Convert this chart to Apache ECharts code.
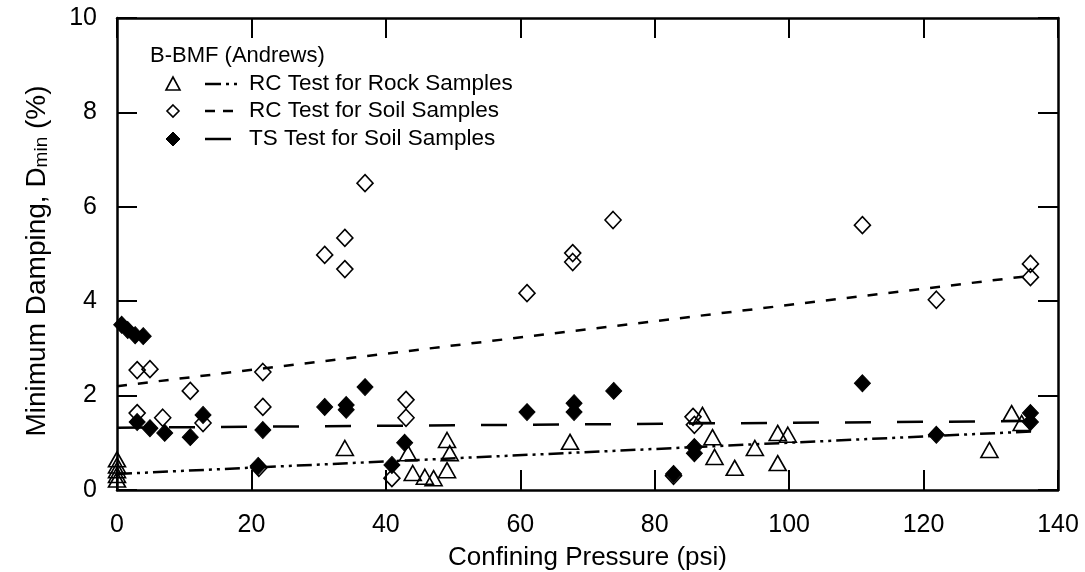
<!DOCTYPE html>
<html>
<head>
<meta charset="utf-8">
<script src="https://cdn.jsdelivr.net/npm/echarts@6/dist/echarts.min.js"></script>
<style>
html,body{margin:0;padding:0;background:#fff;}
#chart{width:1085px;height:572px;}
</style>
</head>
<body>
<div id="chart"></div>
<script>
// ---- data ----
var xTicks = [0, 20, 40, 60, 80, 100, 120, 140];
var yTicks = [0, 2, 4, 6, 8, 10];

// RC Test for Rock Samples (open triangles)
var rockSamples = [
  [0, 0.65], [0, 0.52], [0, 0.42], [0, 0.32], [0, 0.22],
  [33.9, 0.89],
  [43.3, 0.78], [44.0, 0.36], [45.8, 0.28], [47.1, 0.25],
  [49.1, 1.06], [49.5, 0.78], [49.1, 0.42],
  [67.4, 1.02],
  [87.1, 1.59], [88.6, 1.12], [88.9, 0.70], [91.9, 0.47], [94.9, 0.89],
  [98.3, 1.21], [99.8, 1.17], [98.3, 0.57],
  [129.8, 0.85], [133.1, 1.63], [134.6, 1.42]
];

// RC Test for Soil Samples (open diamonds)
var rcSoilSamples = [
  [3.0, 2.54], [4.9, 2.56], [10.9, 2.10], [3.0, 1.63], [6.8, 1.53], [12.8, 1.42],
  [21.7, 2.50], [21.7, 1.76], [21.1, 0.47],
  [36.9, 6.50], [33.9, 5.34], [30.9, 4.98], [33.9, 4.68],
  [43.0, 1.91], [43.0, 1.53], [40.9, 0.25],
  [61.0, 4.17], [67.8, 5.02], [67.8, 4.83], [73.8, 5.72],
  [85.7, 1.55], [85.9, 1.38], [82.8, 0.30],
  [110.9, 5.61], [121.9, 4.03], [135.9, 4.79], [135.9, 4.51]
];

// TS Test for Soil Samples (filled diamonds)
var tsSoilSamples = [
  [0.7, 3.50], [1.6, 3.39], [2.7, 3.28], [3.9, 3.26],
  [3.0, 1.44], [4.9, 1.31], [7.1, 1.21], [10.9, 1.12], [12.8, 1.59],
  [21.7, 1.27], [21.0, 0.51],
  [30.9, 1.76], [34.1, 1.80], [34.1, 1.70], [36.9, 2.18],
  [42.8, 1.00], [40.9, 0.53],
  [61.0, 1.65], [68.0, 1.84], [68.0, 1.65], [73.9, 2.10],
  [85.9, 0.91], [85.9, 0.78], [82.8, 0.34],
  [110.9, 2.26], [121.9, 1.17], [135.9, 1.63], [135.9, 1.44]
];

// trend lines
var rockFit = [[0, 0.34], [136, 1.24]];
var rcSoilFit = [[0, 2.20], [136, 4.54]];
var tsSoilFit = [[0, 1.32], [136, 1.46]];

var legendTitle = 'B-BMF (Andrews)';
var legendNames = ['RC Test for Rock Samples', 'RC Test for Soil Samples', 'TS Test for Soil Samples'];

// ---- chart ----
var FONT = 'Liberation Sans, Arial, Helvetica, sans-serif';
var chart = echarts.init(document.getElementById('chart'), null, {renderer: 'canvas'});

var axisCommon = {
  axisLine: {show: true, onZero: false, lineStyle: {color: '#000', width: 2.5}},
  axisTick: {show: true, inside: true, length: 20, lineStyle: {color: '#000', width: 2}},
  splitLine: {show: false}
};

function mk(extra) { return Object.assign({}, JSON.parse(JSON.stringify(axisCommon)), extra); }

var rockDash = [15, 5, 3, 5, 3, 5];
var soilDash = [10, 11];
var tsDash = [26, 26];

var legendRowsY = [84, 111, 139];

var graphics = [
  {type: 'text', left: 150, top: 45, style: {text: legendTitle, font: '22px ' + FONT, fill: '#000'}}
];
// legend markers
graphics.push({type: 'polygon', shape: {points: [[173, 77], [166, 90], [180, 90]]}, style: {fill: 'none', stroke: '#000', lineWidth: 1.6}});
graphics.push({type: 'polygon', shape: {points: [[173, 105], [179, 111], [173, 117], [167, 111]]}, style: {fill: 'none', stroke: '#000', lineWidth: 1.6}});
graphics.push({type: 'polygon', shape: {points: [[173, 132], [180, 139], [173, 146], [166, 139]]}, style: {fill: '#000', stroke: '#000', lineWidth: 1}});
// legend line samples
graphics.push({type: 'line', shape: {x1: 205, y1: 84, x2: 240, y2: 84}, style: {stroke: '#000', lineWidth: 2.5, lineDash: [16, 5, 3, 5, 3, 5]}});
graphics.push({type: 'line', shape: {x1: 205, y1: 111, x2: 234, y2: 111}, style: {stroke: '#000', lineWidth: 2.5, lineDash: [10, 8]}});
graphics.push({type: 'line', shape: {x1: 205, y1: 139, x2: 231, y2: 139}, style: {stroke: '#000', lineWidth: 2.5}});
for (var i = 0; i < 3; i++) {
  graphics.push({type: 'text', left: 249, top: legendRowsY[i] - 12,
    style: {text: legendNames[i], font: '22.5px ' + FONT, fill: '#000'}});
}

var option = {
  backgroundColor: '#fff',
  animation: false,
  textStyle: {fontFamily: FONT},
  grid: {left: 117, right: 27, top: 18, bottom: 82, containLabel: false, outerBoundsMode: 'none'},
  xAxis: [
    mk({type: 'value', position: 'bottom', min: 0, max: 140, interval: 20,
      name: 'Confining Pressure (psi)', nameLocation: 'middle', nameGap: 55,
      nameTextStyle: {fontSize: 26, color: '#000', fontFamily: FONT},
      axisLabel: {show: true, fontSize: 25, color: '#000', margin: 23, fontFamily: FONT}}),
    mk({type: 'value', position: 'top', min: 0, max: 140, interval: 20, axisLabel: {show: false}})
  ],
  yAxis: [
    mk({type: 'value', position: 'left', min: 0, max: 10, interval: 2,
      name: '{a|Minimum Damping, D}{b|min}{a| (%)}', nameLocation: 'middle', nameGap: 66, nameRotate: 90,
      nameTextStyle: {
        padding: [0, 14, 0, 0],
        rich: {
          a: {fontSize: 28, color: '#000', fontFamily: FONT, lineHeight: 34, verticalAlign: 'bottom'},
          b: {fontSize: 19, color: '#000', fontFamily: FONT, lineHeight: 34, verticalAlign: 'bottom'}
        }
      },
      axisLabel: {show: true, fontSize: 25, color: '#000', margin: 20, fontFamily: FONT}}),
    mk({type: 'value', position: 'right', min: 0, max: 10, interval: 2, axisLabel: {show: false}})
  ],
  graphic: graphics,
  series: [
    {type: 'line', data: rockFit, symbol: 'none', z: 2, silent: true,
      lineStyle: {color: '#000', width: 2.5, type: rockDash}},
    {type: 'line', data: rcSoilFit, symbol: 'none', z: 2, silent: true,
      lineStyle: {color: '#000', width: 2.5, type: soilDash}},
    {type: 'line', data: tsSoilFit, symbol: 'none', z: 2, silent: true,
      lineStyle: {color: '#000', width: 2.5, type: tsDash}},
    {type: 'scatter', name: legendNames[1], data: rcSoilSamples, symbol: 'diamond', symbolSize: [16, 17], z: 3,
      itemStyle: {color: 'rgba(0,0,0,0)', borderColor: '#000', borderWidth: 1.6, opacity: 1}},
    {type: 'scatter', name: legendNames[0], data: rockSamples, symbol: 'triangle', symbolSize: [17, 15], z: 3,
      itemStyle: {color: 'rgba(0,0,0,0)', borderColor: '#000', borderWidth: 1.6, opacity: 1}},
    {type: 'scatter', name: legendNames[2], data: tsSoilSamples, symbol: 'diamond', symbolSize: [16, 17], z: 4,
      itemStyle: {color: '#000', borderColor: '#000', borderWidth: 1, opacity: 1}}
  ]
};
chart.setOption(option);
</script>
</body>
</html>
